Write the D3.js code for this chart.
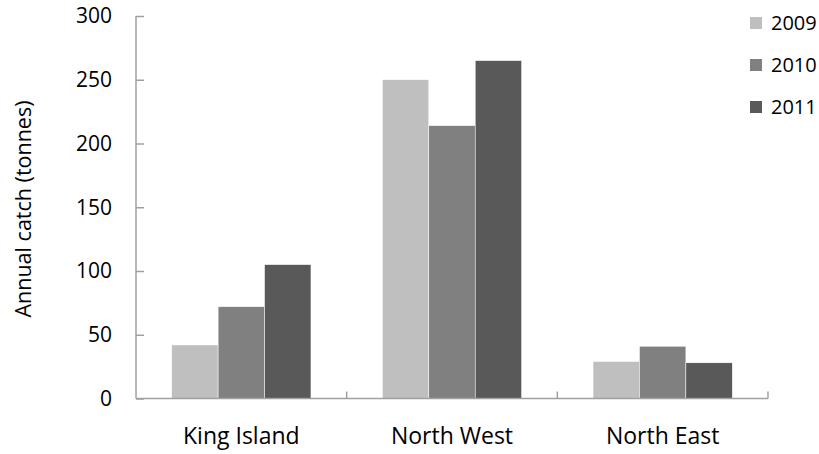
<!DOCTYPE html>
<html>
<head>
<meta charset="utf-8">
<script src="https://cdn.jsdelivr.net/npm/d3@7"></script>
<style>
  html, body { margin: 0; padding: 0; background: #fff; }
  svg { display: block; font-family: "Open Sans", "Noto Sans", sans-serif; }
</style>
</head>
<body>
<svg id="chart" width="819" height="454"></svg>
<script>
const categories = ["King Island", "North West", "North East"];
const seriesNames = ["2009", "2010", "2011"];
const values2009 = [42, 250, 29];
const values2010 = [72, 214, 41];
const values2011 = [105, 265, 28];
const yTicks = [0, 50, 100, 150, 200, 250, 300];
const colors = ["#bfbfbf", "#808080", "#595959"];
const yTitle = "Annual catch (tonnes)";

const seriesValues = [values2009, values2010, values2011];
const svg = d3.select("#chart");

const plotLeft = 136, plotRight = 768, plotTop = 16, plotBottom = 398.5;

const x = d3.scaleBand().domain(categories).range([plotLeft, plotRight])
  .paddingInner(0.339).paddingOuter(0.1695);
const xs = d3.scaleBand().domain(seriesNames).range([0, x.bandwidth()]).padding(0);
const y = d3.scaleLinear().domain([0, 300]).range([plotBottom, plotTop]);

// bars
categories.forEach((c, ci) => {
  const g = svg.append("g").attr("transform", `translate(${x(c)},0)`);
  g.selectAll("rect").data(seriesNames.map((s, si) => ({s, si, v: seriesValues[si][ci]})))
    .join("rect")
    .attr("x", d => xs(d.s))
    .attr("y", d => y(d.v))
    .attr("width", xs.bandwidth())
    .attr("height", d => y(0) - y(d.v))
    .attr("fill", d => colors[d.si])
    .attr("stroke", "#ffffff")
    .attr("stroke-width", 0.5);
});

const axisColor = "#a0a0a0";

// y axis
const yAxis = d3.axisRight(y).tickValues(yTicks).tickSize(8).tickFormat("");
const ya = svg.append("g").attr("transform", `translate(${plotLeft},0)`).call(yAxis);
ya.select(".domain").remove();
ya.selectAll(".tick line").attr("stroke", axisColor).attr("stroke-width", 1.5);
svg.append("line").attr("x1", plotLeft).attr("x2", plotLeft).attr("y1", plotTop).attr("y2", plotBottom)
  .attr("stroke", axisColor).attr("stroke-width", 1.5);

// y tick labels
svg.append("g").selectAll("text").data(yTicks).join("text")
  .attr("x", 112).attr("y", d => y(d)).attr("dy", "0.35em")
  .attr("text-anchor", "end").attr("font-size", 21).attr("fill", "#000")
  .text(d => d);

// x axis
svg.append("line").attr("x1", plotLeft).attr("x2", plotRight).attr("y1", plotBottom).attr("y2", plotBottom)
  .attr("stroke", axisColor).attr("stroke-width", 1.5);
const boundaries = categories.map(c => x(c) + x.bandwidth() + x.step() * x.paddingInner() / 2);
svg.append("g").selectAll("line").data(boundaries).join("line")
  .attr("x1", d => d).attr("x2", d => d).attr("y1", plotBottom).attr("y2", plotBottom - 7)
  .attr("stroke", axisColor).attr("stroke-width", 1.5);

// x labels
svg.append("g").selectAll("text").data(categories).join("text")
  .attr("x", d => x(d) + x.bandwidth() / 2).attr("y", 444)
  .attr("text-anchor", "middle").attr("font-size", 23).attr("fill", "#000")
  .text(d => d);

// y title
svg.append("text")
  .attr("transform", `translate(31,209) rotate(-90)`)
  .attr("text-anchor", "middle").attr("font-size", 21.5).attr("fill", "#000")
  .text(yTitle);

// legend
const lg = svg.append("g").selectAll("g").data(seriesNames).join("g")
  .attr("transform", (d, i) => `translate(750,${17 + i * 42})`);
lg.append("rect").attr("width", 12).attr("height", 12).attr("fill", (d, i) => colors[i]);
lg.append("text").attr("x", 21).attr("y", 12.5).attr("font-size", 20).attr("fill", "#000")
  .text(d => d);
</script>
</body>
</html>
